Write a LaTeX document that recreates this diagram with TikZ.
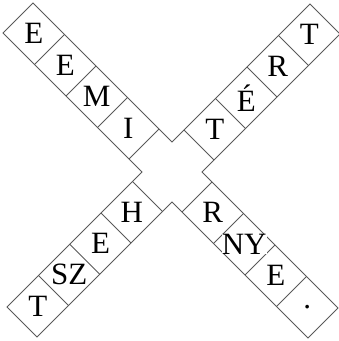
\documentclass[tikz,border=0pt]{standalone}
\usepackage{fontspec}
\setmainfont{Liberation Serif}
\tikzset{
  cellline/.style={draw=black!65, line width=0.9pt, line join=miter},
  letter/.style={font=\fontsize{31}{34}\selectfont, fill=white, inner sep=0pt, text=black}
}
\begin{document}
\begin{tikzpicture}[x=1pt,y=1pt]
\useasboundingbox (0,0) rectangle (339,341);
\begin{scope}[shift={(0,341)}, x={(0.5pt,-0.5pt)}, y={(-0.5pt,-0.5pt)}]
  % outline of the cross
  \draw[cellline] (36,-30) -- (314,-30) -- (314,-306) -- (374,-306) -- (374,-30)
    -- (646,-30) -- (646,30) -- (374,30) -- (374,300) -- (314,300) -- (314,30)
    -- (36,30) -- cycle;
  % cell dividers
  \foreach \p in {99,162,225,288,394,457,520,583}
    \draw[cellline] (\p,-30) -- (\p,30);
  \foreach \q in {-243,-180,-117,-54,49,112,174.5,237}
    \draw[cellline] (314,\q) -- (374,\q);
  % arm 1 (top left)
  \node[letter] (a1) at (67.5,0) {E};
  \node[letter] (a2) at (130.5,0) {E};
  \node[letter] (a3) at (193.5,0) {M};
  \node[letter] (a4) at (256.5,0) {I};
  % arm 2 (top right)
  \node[letter] (b1) at (344,-274.5) {T};
  \node[letter] (b2) at (344,-211.5) {R};
  \node[letter] (b3) at (344,-148.5) {É};
  \node[letter] (b4) at (344,-85.5) {T};
  % arm 3 (bottom left)
  \node[letter] (c1) at (344,80.5) {H};
  \node[letter] (c2) at (344,143) {E};
  \node[letter] (c3) at (344,205.75) {SZ};
  \node[letter] (c4) at (344,268.5) {T};
  % arm 4 (bottom right)
  \node[letter] (d1) at (425.5,0) {R};
  \node[letter] (d2) at (488.5,0) {NY};
  \node[letter] (d3) at (551.5,0) {E};
  \node[letter] (d4) at (614.5,0) {.};
\end{scope}
\end{tikzpicture}
\end{document}
